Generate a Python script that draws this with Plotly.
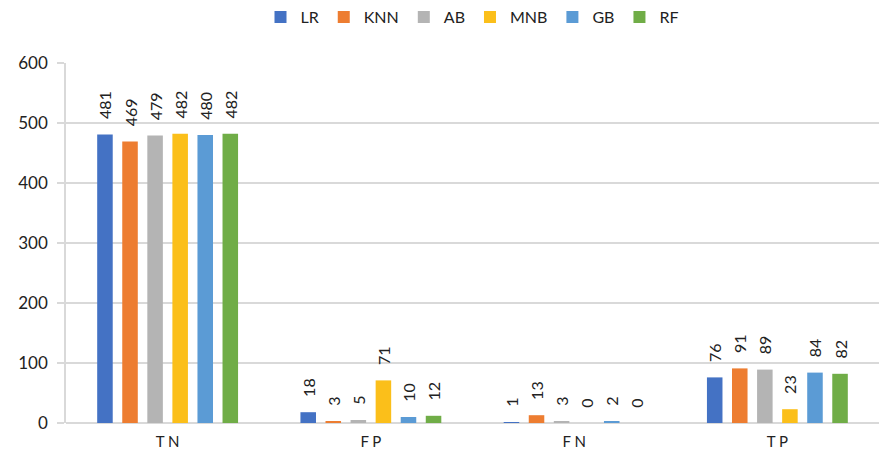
import plotly.graph_objects as go

categories = ["T N", "F P", "F N", "T P"]
models = ["LR", "KNN", "AB", "MNB", "GB", "RF"]
values = {
    "LR": [481, 18, 1, 76],
    "KNN": [469, 3, 13, 91],
    "AB": [479, 5, 3, 89],
    "MNB": [482, 71, 0, 23],
    "GB": [480, 10, 2, 84],
    "RF": [482, 12, 0, 82],
}
colors = ["#4472C4", "#ED7D31", "#B4B4B4", "#FBBF1A", "#5B9BD5", "#70AD47"]
y_ticks = [0, 100, 200, 300, 400, 500, 600]

font_family = "Lato, Open Sans, sans-serif"
# non-breaking spaces lift the rotated value labels a little off the bar tops
label_pad = "\u00a0\u00a0\u00a0"

fig = go.Figure()
for name, color in zip(models, colors):
    fig.add_trace(go.Bar(
        name=name,
        x=categories,
        y=values[name],
        marker=dict(color=color, line=dict(width=0)),
        text=[label_pad + str(v) for v in values[name]],
        textposition="outside",
        textangle=-90,
        constraintext="none",
        textfont=dict(size=16, color="#222222", family=font_family),
        cliponaxis=False,
    ))

fig.update_layout(
    width=879,
    height=461,
    barmode="group",
    bargap=0.26,
    bargroupgap=0.38,
    plot_bgcolor="white",
    paper_bgcolor="white",
    margin=dict(l=66, r=0, t=63, b=38),
    font=dict(family=font_family, size=14, color="#222222"),
    legend=dict(
        orientation="h",
        x=0.5,
        xanchor="center",
        y=1.0,
        yref="container",
        yanchor="top",
        font=dict(size=16, color="#222222"),
        itemwidth=30,
        traceorder="normal",
    ),
    xaxis=dict(
        showgrid=False,
        showline=False,
        ticks="",
        ticklabelstandoff=8,
        tickfont=dict(size=15, color="#222222"),
    ),
    yaxis=dict(
        range=[0, 600],
        tickvals=y_ticks,
        showgrid=True,
        gridcolor="#D9D9D9",
        gridwidth=1.5,
        zeroline=True,
        zerolinecolor="#D9D9D9",
        zerolinewidth=1.5,
        showline=True,
        linecolor="#D9D9D9",
        linewidth=1.5,
        ticks="outside",
        ticklen=7,
        tickcolor="#D9D9D9",
        tickwidth=1.5,
        ticklabelstandoff=6,
        tickfont=dict(size=17, color="#222222"),
    ),
)

fig.write_html("out.html")
